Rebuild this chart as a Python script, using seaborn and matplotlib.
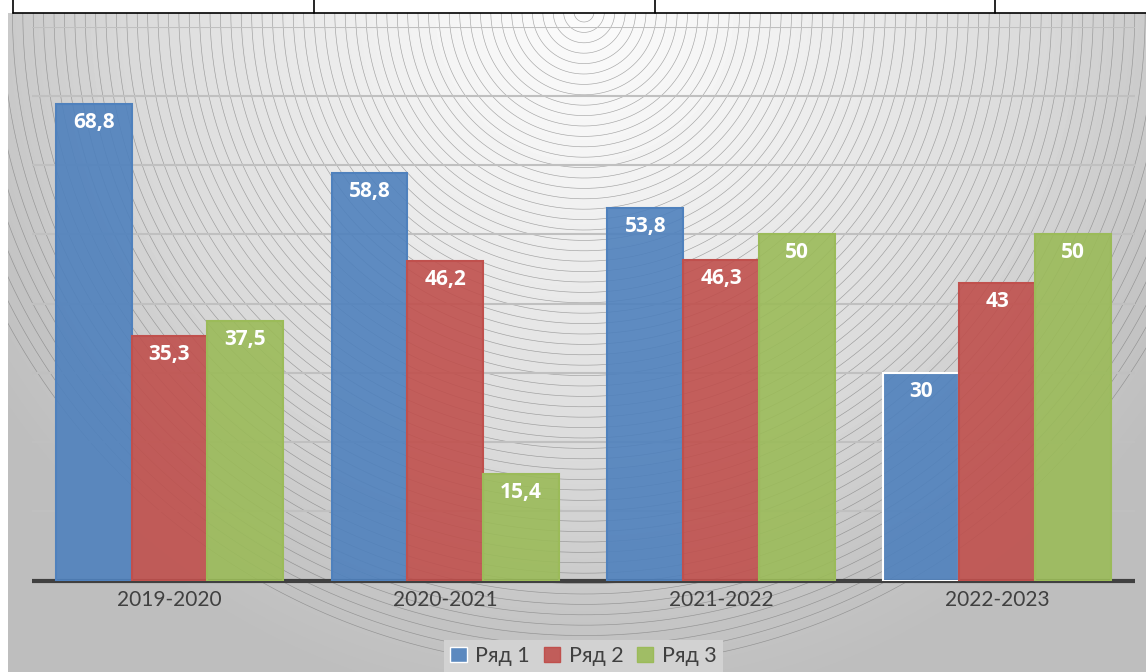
import numpy as np
import pandas as pd
import matplotlib
matplotlib.use("Agg")
import matplotlib.pyplot as plt
import seaborn as sns
from matplotlib.colors import to_rgba

# dados do grafico
anos = ["2019-2020", "2020-2021", "2021-2022", "2022-2023"]
ryad_1 = [68.8, 58.8, 53.8, 30]
ryad_2 = [35.3, 46.2, 46.3, 43]
ryad_3 = [37.5, 15.4, 50, 50]
series = ["Ряд 1", "Ряд 2", "Ряд 3"]

rotulos_1 = ["68,8", "58,8", "53,8", "30"]
rotulos_2 = ["35,3", "46,2", "46,3", "43"]
rotulos_3 = ["37,5", "15,4", "50", "50"]

cores = ["#4F81BD", "#C0504D", "#9BBB59"]
cinza = "#404040"

sns.set_theme(style="white")
plt.rcParams["font.family"] = ["Lato", "Open Sans", "DejaVu Sans"]

W, H = 1146, 672
fig = plt.figure(figsize=(W / 100, H / 100), dpi=100, facecolor="white")

# fundo: gradiente radial com aneis concentricos
fundo = fig.add_axes([0, 0, 1, 1], zorder=0)
fundo.axis("off")

cx, cy = 584, 12
xx, yy = np.meshgrid(np.arange(8, W), np.arange(13, H))
rr = np.hypot(xx - cx, yy - cy)
tons = np.interp(rr, [0, 150, 300, 450, 600, 700], [251, 244, 232, 218, 198, 190]) / 255
fundo.imshow(tons, cmap="gray", vmin=0, vmax=1, extent=(8, W, H, 13), aspect="auto", zorder=0)
fundo.set_xlim(0, W)
fundo.set_ylim(H, 0)

t = np.linspace(0, 2 * np.pi, 1500)
for r in np.arange(10, 660, 10.4):
    linha, = fundo.plot(cx + r * np.cos(t), cy + r * np.sin(t), color="#787878", lw=0.45, alpha=0.65, zorder=1)
    linha.set_clip_path(plt.Rectangle((8, 13), W, H, transform=fundo.transData))

# tabela cortada no topo
fundo.plot([13, W], [12.5, 12.5], color="black", lw=1.2, zorder=2)
for x in [13, 314, 655, 995]:
    fundo.plot([x, x], [0, 12.5], color="black", lw=1.2, zorder=2)

# barras
df = pd.DataFrame({
    "ano": anos * 3,
    "valor": ryad_1 + ryad_2 + ryad_3,
    "serie": np.repeat(series, 4),
})

ax = fig.add_axes([31.5 / W, (H - 580.5) / H, 1103.5 / W, 554 / H], zorder=1)
ax.patch.set_alpha(0)
sns.barplot(data=df, x="ano", y="valor", hue="serie", palette=cores, width=0.825, gap=0,
            saturation=1, ax=ax, errorbar=None)

ax.set_xlim(-0.5, 3.5)
ax.set_ylim(0, 80)
ax.set_xlabel("")
ax.set_ylabel("")
ax.set_yticks(range(10, 90, 10))
ax.tick_params(axis="y", left=False, labelleft=False)
ax.tick_params(axis="x", bottom=False, labelsize=15, labelcolor=cinza, pad=1)
ax.grid(axis="y", color="#c0c0c0", lw=1.5)
ax.set_axisbelow(True)
sns.despine(ax=ax, left=True, top=True, right=True)
ax.spines["bottom"].set_color(cinza)
ax.spines["bottom"].set_linewidth(3)
ax.spines["bottom"].set_capstyle("butt")
ax.spines["bottom"].set_zorder(0.5)

rotulos = [rotulos_1, rotulos_2, rotulos_3]
for cont, cor, texto in zip(ax.containers, cores, rotulos):
    for barra in cont:
        barra.set_facecolor(to_rgba(cor, 0.9))
        barra.set_edgecolor(cor)
        barra.set_linewidth(1.5)
    ax.bar_label(cont, labels=texto, padding=-21, color="white", fontsize=15, fontweight="bold",
                 fontfamily=["Open Sans", "DejaVu Sans"])

# barra selecionada com contorno branco
ax.containers[0][3].set_edgecolor("white")

# legenda
leg = ax.legend(loc="center", bbox_to_anchor=(583.5 / W, (H - 656) / H), bbox_transform=fig.transFigure,
                ncols=3, frameon=True, facecolor="#d2d2d2", edgecolor="none", framealpha=1, fancybox=False,
                fontsize=15.5, labelcolor=cinza, handlelength=0.75, handleheight=0.75, handletextpad=0.4,
                columnspacing=0.65, borderpad=0.3, borderaxespad=0)
for caixa, cor in zip(leg.legend_handles, cores):
    caixa.set_facecolor(to_rgba(cor, 0.9))
    caixa.set_edgecolor(cor)
leg.legend_handles[0].set_edgecolor("white")

fig.savefig("out.png", dpi=100)
